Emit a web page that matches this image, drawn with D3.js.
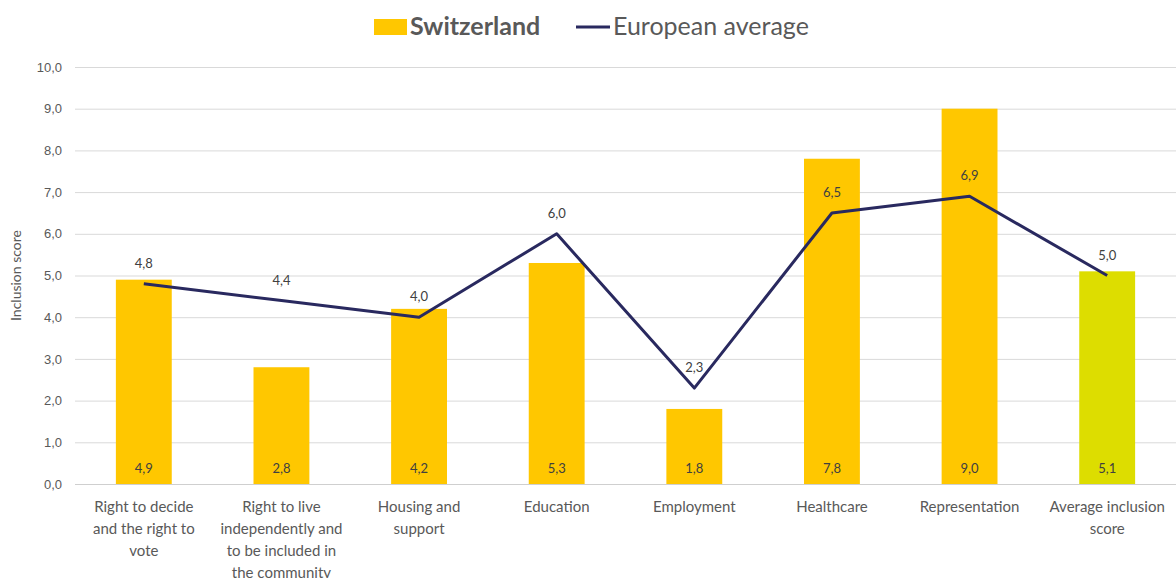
<!DOCTYPE html>
<html>
<head>
<meta charset="utf-8">
<script src="https://cdn.jsdelivr.net/npm/d3@7"></script>
<style>
  body { margin: 0; background: #fff; }
  svg { font-family: Lato, "Open Sans", sans-serif; }
</style>
</head>
<body>
<svg id="chart" width="1176" height="578"></svg>
<script>
// Chart data
const categories = [
    'Right to decide\nand the right to\nvote',
    'Right to live\nindependently and\nto be included in\nthe community',
    'Housing and\nsupport',
    'Education',
    'Employment',
    'Healthcare',
    'Representation',
    'Average inclusion\nscore'
];
const switzerland = [4.9, 2.8, 4.2, 5.3, 1.8, 7.8, 9.0, 5.1];
const europeanAverage = [4.8, 4.4, 4.0, 6.0, 2.3, 6.5, 6.9, 5.0];
const yTicks = [0, 1, 2, 3, 4, 5, 6, 7, 8, 9, 10];

const barColor = '#ffc700';
const avgBarColor = '#dddd00';
const lineColor = '#29295f';
const textColor = '#595959';

let svg = d3.select('#chart');
const margin = { top: 67, bottom: 94, left: 75, right: 0 };
const innerWidth = 1176 - margin.left - margin.right;
const innerHeight = 578 - margin.top - margin.bottom;
const fmt = v => d3.format('.1f')(v).replace('.', ',');

let g = svg.append('g').attr('transform', `translate(${margin.left},${margin.top})`);

let xScale = d3.scaleBand()
    .domain(d3.range(categories.length))
    .range([0, innerWidth])
    .paddingInner(0.594)
    .paddingOuter(0.297);
let yScale = d3.scaleLinear()
    .domain([0, 10])
    .range([innerHeight, 0]);

// gridlines + y labels
let yAxis = g.append('g')
    .call(d3.axisLeft(yScale).tickValues(yTicks).tickSize(-innerWidth).tickFormat(fmt).tickPadding(13));
yAxis.select('.domain').remove();
yAxis.selectAll('.tick line').attr('stroke', '#d9d9d9').attr('stroke-width', 1);
yAxis.selectAll('.tick text')
    .attr('fill', textColor)
    .style('font-size', '13px');
yAxis.selectAll('.tick').filter(d => d === 0).select('line').attr('stroke', '#cfcfcf');

// y axis title
g.append('text')
    .attr('transform', `translate(${-54},${innerHeight / 2}) rotate(-90)`)
    .attr('text-anchor', 'middle')
    .attr('fill', textColor)
    .style('font-size', '14px')
    .text('Inclusion score');

// bars
g.selectAll('.bar')
    .data(switzerland)
    .join('rect')
    .attr('class', 'bar')
    .attr('x', (d, i) => xScale(i))
    .attr('y', d => yScale(d))
    .attr('width', xScale.bandwidth())
    .attr('height', d => innerHeight - yScale(d))
    .attr('fill', (d, i) => i === categories.length - 1 ? avgBarColor : barColor);

// bar value labels
g.selectAll('.bar-label')
    .data(switzerland)
    .join('text')
    .attr('class', 'bar-label')
    .attr('x', (d, i) => xScale(i) + xScale.bandwidth() / 2)
    .attr('y', innerHeight - 11)
    .attr('text-anchor', 'middle')
    .attr('fill', '#404040')
    .style('font-size', '13px')
    .text(d => fmt(d));

// european average line
const cx = i => xScale(i) + xScale.bandwidth() / 2;
let line = d3.line()
    .x((d, i) => cx(i))
    .y(d => yScale(d));
g.append('path')
    .datum(europeanAverage)
    .attr('d', line)
    .attr('fill', 'none')
    .attr('stroke', lineColor)
    .attr('stroke-width', 3)
    .attr('stroke-linejoin', 'round');

g.selectAll('.line-label')
    .data(europeanAverage)
    .join('text')
    .attr('class', 'line-label')
    .attr('x', (d, i) => cx(i))
    .attr('y', d => yScale(d) - 16)
    .attr('text-anchor', 'middle')
    .attr('fill', '#404040')
    .style('font-size', '13px')
    .text(d => fmt(d));

// category labels
let xLabels = g.selectAll('.x-label')
    .data(categories)
    .join('text')
    .attr('class', 'x-label')
    .attr('text-anchor', 'middle')
    .attr('fill', textColor)
    .style('font-size', '15px')
    .attr('transform', (d, i) => `translate(${cx(i)},${innerHeight + 28})`);
xLabels.selectAll('tspan')
    .data(d => d.split('\n'))
    .join('tspan')
    .attr('x', 0)
    .attr('y', (d, i) => i * 22)
    .text(d => d);

// legend
let legend = svg.append('g');
legend.append('rect')
    .attr('x', 374).attr('y', 19)
    .attr('width', 33).attr('height', 16)
    .attr('fill', barColor);
legend.append('text')
    .attr('x', 410).attr('y', 35)
    .attr('fill', textColor)
    .style('font-size', '25px')
    .style('font-weight', 'bold')
    .text('Switzerland');
legend.append('line')
    .attr('x1', 576).attr('x2', 610)
    .attr('y1', 27).attr('y2', 27)
    .attr('stroke', lineColor)
    .attr('stroke-width', 3);
legend.append('text')
    .attr('x', 613).attr('y', 35)
    .attr('fill', textColor)
    .style('font-size', '25px')
    .text('European average');
</script>
</body>
</html>
